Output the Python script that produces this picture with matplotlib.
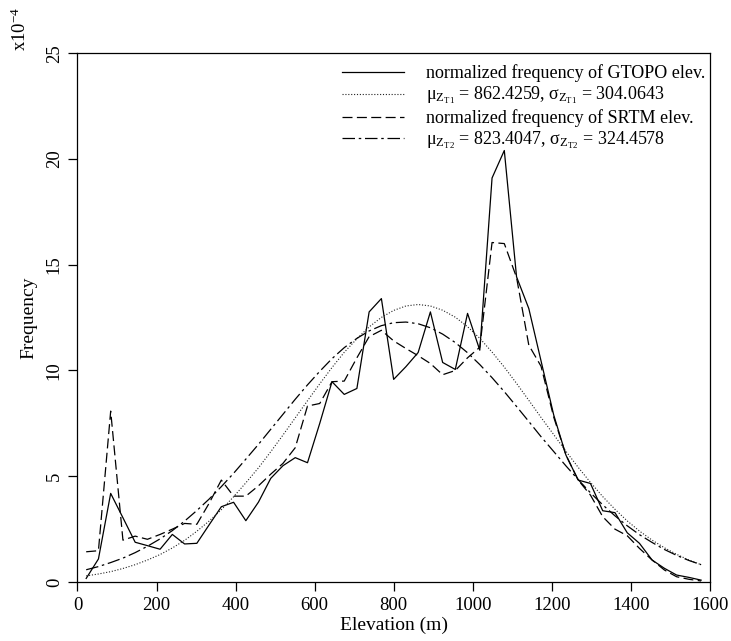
import matplotlib
matplotlib.use("Agg")
import matplotlib.pyplot as plt

plt.rcParams['font.family'] = ['Liberation Serif', 'DejaVu Serif']
plt.rcParams['mathtext.fontset'] = 'custom'
plt.rcParams['mathtext.rm'] = 'Liberation Serif'
plt.rcParams['mathtext.it'] = 'Liberation Serif:italic'
plt.rcParams['mathtext.bf'] = 'Liberation Serif:bold'

# Elevation bin centres (m)
elevation = [22, 53, 84, 115, 146, 177, 209, 240, 271, 302, 333, 364, 395, 426,
             458, 489, 520, 551, 582, 613, 644, 675, 707, 738, 769, 800, 831,
             862, 893, 924, 956, 987, 1018, 1049, 1080, 1111, 1142, 1173, 1205,
             1236, 1267, 1298, 1329, 1360, 1391, 1422, 1454, 1485, 1516, 1547, 1578]

# Normalized frequency (x1e-4)
gtopo_freq = [0.17, 1.09, 4.19, 3.04, 1.88, 1.72, 1.55, 2.25, 1.80, 1.83, 2.70,
              3.56, 3.77, 2.90, 3.78, 4.90, 5.50, 5.88, 5.64, 7.50, 9.47, 8.87,
              9.15, 12.77, 13.40, 9.58, 10.18, 10.85, 12.77, 10.38, 10.05, 12.70,
              10.96, 19.10, 20.40, 14.43, 12.93, 10.45, 7.90, 6.00, 4.82, 4.66,
              3.37, 3.28, 2.33, 1.83, 1.04, 0.65, 0.33, 0.22, 0.09]

gtopo_fit = [0.29, 0.38, 0.49, 0.64, 0.82, 1.04, 1.30, 1.61, 1.97, 2.40, 2.88,
             3.42, 4.03, 4.69, 5.40, 6.16, 6.95, 7.76, 8.57, 9.37, 10.14, 10.86,
             11.50, 12.06, 12.51, 12.84, 13.05, 13.12, 13.05, 12.85, 12.52, 12.07,
             11.52, 10.87, 10.16, 9.39, 8.59, 7.78, 6.97, 6.18, 5.42, 4.71, 4.04,
             3.44, 2.89, 2.41, 1.98, 1.62, 1.31, 1.04, 0.82]

srtm_freq = [1.43, 1.48, 8.08, 1.98, 2.17, 2.02, 2.25, 2.50, 2.77, 2.73, 3.72,
             4.82, 4.06, 4.06, 4.55, 5.10, 5.61, 6.35, 8.32, 8.44, 9.47, 9.50,
             10.60, 11.60, 11.90, 11.40, 11.04, 10.70, 10.33, 9.80, 10.00, 10.60,
             11.10, 16.05, 16.00, 14.40, 11.20, 10.20, 7.80, 6.00, 4.82, 4.11,
             3.09, 2.50, 2.19, 1.59, 1.04, 0.57, 0.25, 0.13, 0.05]

srtm_fit = [0.58, 0.73, 0.92, 1.13, 1.39, 1.69, 2.04, 2.43, 2.88, 3.38, 3.92,
            4.51, 5.14, 5.81, 6.51, 7.22, 7.93, 8.64, 9.32, 9.96, 10.56, 11.08,
            11.52, 11.87, 12.12, 12.26, 12.29, 12.21, 12.02, 11.72, 11.32, 10.84,
            10.28, 9.66, 9.00, 8.30, 7.59, 6.87, 6.17, 5.49, 4.84, 4.22, 3.65,
            3.13, 2.66, 2.24, 1.87, 1.54, 1.26, 1.02, 0.82]

labels = ["normalized frequency of GTOPO elev.",
          r"μ$_{\mathrm{Z}_{\mathrm{T1}}}$ = 862.4259, σ$_{\mathrm{Z}_{\mathrm{T1}}}$ = 304.0643",
          "normalized frequency of SRTM elev.",
          r"μ$_{\mathrm{Z}_{\mathrm{T2}}}$ = 823.4047, σ$_{\mathrm{Z}_{\mathrm{T2}}}$ = 324.4578"]

fig = plt.figure(figsize=(7.31, 6.41), dpi=100)
ax = fig.add_axes([0.106, 0.092, 0.865, 0.825])

lw = 0.9
ax.plot(elevation, gtopo_freq, color='black', lw=lw, ls='-', label=labels[0])
ax.plot(elevation, gtopo_fit, color='#222222', lw=0.8, ls=(0, (1, 1.6)), label=labels[1])
ax.plot(elevation, srtm_freq, color='black', lw=lw, ls=(0, (8, 3.5)), label=labels[2])
ax.plot(elevation, srtm_fit, color='black', lw=lw, ls=(0, (10, 3, 2, 3)), label=labels[3])

ax.set_xlim(0, 1600)
ax.set_ylim(0, 25)
ax.set_xticks([0, 200, 400, 600, 800, 1000, 1200, 1400, 1600])
ax.set_yticks([0, 5, 10, 15, 20, 25])
ax.tick_params(direction='out', length=6.5, width=0.9, labelsize=13.5, pad=4)
for lab in ax.get_yticklabels():
    lab.set_rotation(90)
    lab.set_va('center')
for s in ax.spines.values():
    s.set_linewidth(0.9)

ax.set_xlabel("Elevation (m)", fontsize=14, labelpad=2)
ax.set_ylabel("Frequency", fontsize=14, labelpad=6)

fig.text(0.028, 0.955, r"x10$^{-4}$", rotation=90, fontsize=13.5, ha='center', va='center')

leg = ax.legend(loc='upper right', bbox_to_anchor=(1.013, 1.003), frameon=False,
                fontsize=13, handlelength=3.4, handletextpad=1.25, labelspacing=0.15,
                borderaxespad=0.3)

fig.savefig("out.png", dpi=100)
